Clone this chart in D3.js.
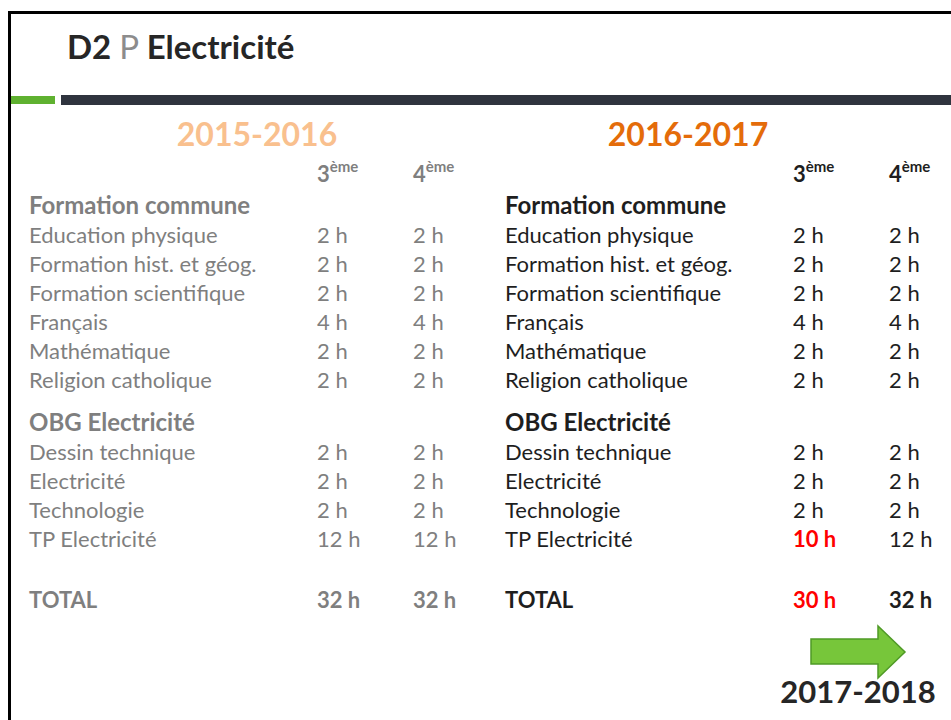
<!DOCTYPE html>
<html>
<head>
<meta charset="utf-8">
<script src="https://cdn.jsdelivr.net/npm/d3@7"></script>
<style>
  body { margin: 0; background: #fff; }
  svg { display: block; font-family: Lato, "Noto Sans", sans-serif; }
</style>
</head>
<body>
<svg id="slide" width="951" height="720"></svg>
<script>
const years = ["2015-2016", "2016-2017"];
const levels = ["3", "4"];
const sections = ["Formation commune", "OBG Electricité"];
const communeSubjects = ["Education physique", "Formation hist. et géog.", "Formation scientifique", "Français", "Mathématique", "Religion catholique"];
const obgSubjects = ["Dessin technique", "Electricité", "Technologie", "TP Electricité"];
// hours per subject [3ème, 4ème]
const hours2015 = [[2,2],[2,2],[2,2],[4,4],[2,2],[2,2],[2,2],[2,2],[2,2],[12,12]];
const hours2016 = [[2,2],[2,2],[2,2],[4,4],[2,2],[2,2],[2,2],[2,2],[2,2],[10,12]];

const svg = d3.select("#slide");

// row positions in "row units" (gaps between blocks)
const rows = [];
rows.push({label: sections[0], pos: 0, kind: "section"});
communeSubjects.forEach((s, i) => rows.push({label: s, pos: 1 + i, kind: "item", idx: i}));
rows.push({label: sections[1], pos: 7.5, kind: "section"});
obgSubjects.forEach((s, i) => rows.push({label: s, pos: 8.5 + i, kind: "item", idx: communeSubjects.length + i}));
rows.push({label: "TOTAL", pos: 13.6, kind: "total"});

const y = d3.scaleLinear().domain([0, 1]).range([214, 242.95]);
const panelX = d3.scaleOrdinal().domain(years).range([29, 505]);
const colX = d3.scaleOrdinal().domain(["label", "3", "4"]).range([0, 288, 384]);
const fs = 22;

// frame
svg.append("rect").attr("x", 9.5).attr("y", 12.5).attr("width", 960).attr("height", 720)
  .attr("fill", "none").attr("stroke", "#000").attr("stroke-width", 3);

// title
const title = svg.append("text").attr("x", 67).attr("y", 59).attr("font-size", 33).attr("font-weight", 700).attr("fill", "#262626");
title.append("tspan").text("D2 ");
title.append("tspan").attr("font-weight", 400).attr("fill", "#8c8c8c").text("P ");
title.append("tspan").text("Electricité");

// banner
svg.append("rect").attr("x", 11).attr("y", 96).attr("width", 44).attr("height", 8).attr("fill", "#5fb130");
svg.append("rect").attr("x", 61).attr("y", 95).attr("width", 900).attr("height", 10).attr("fill", "#2f343e");

const panels = [
  {year: years[0], hours: hours2015, color: "#7f7f7f", yearColor: "#f9c08e", yearMid: 228},
  {year: years[1], hours: hours2016, color: "#1e1e1e", yearColor: "#e46c0a", yearMid: 183}
];
const totals2015 = levels.map((l, j) => d3.sum(hours2015, h => h[j]));

panels.forEach((p, pi) => {
  const g = svg.append("g").attr("transform", `translate(${panelX(p.year)},0)`);
  g.append("text").attr("x", p.yearMid).attr("y", 146).attr("text-anchor", "middle")
    .attr("font-size", 32).attr("font-weight", 700).attr("fill", p.yearColor).text(p.year);

  levels.forEach(l => {
    const t = g.append("text").attr("x", colX(l)).attr("y", 182).attr("font-size", fs).attr("font-weight", 700).attr("fill", p.color);
    t.append("tspan").text(l);
    t.append("tspan").attr("dy", -10).attr("font-size", 15).text("ème");
  });

  const totals = levels.map((l, j) => d3.sum(p.hours, h => h[j]));

  rows.forEach(r => {
    const by = y(r.pos);
    g.append("text").attr("x", colX("label")).attr("y", by)
      .attr("font-size", r.kind === "section" ? 24 : fs).attr("font-weight", r.kind === "item" ? 400 : 700)
      .attr("fill", p.color).text(r.label);
    if (r.kind === "item") {
      levels.forEach((l, j) => {
        const red = pi > 0 && p.hours[r.idx][j] !== hours2015[r.idx][j];
        g.append("text").attr("x", colX(l)).attr("y", by).attr("font-size", fs)
          .attr("font-weight", red ? 700 : 400).attr("fill", red ? "#ff0000" : p.color)
          .text(p.hours[r.idx][j] + " h");
      });
    } else if (r.kind === "total") {
      levels.forEach((l, j) => {
        const red = pi > 0 && totals[j] !== totals2015[j];
        g.append("text").attr("x", colX(l)).attr("y", by).attr("font-size", fs)
          .attr("font-weight", 700).attr("fill", red ? "#ff0000" : p.color)
          .text(totals[j] + " h");
      });
    }
  });
});

// arrow to next year
const arrow = d3.path();
arrow.moveTo(811, 639); arrow.lineTo(878, 639); arrow.lineTo(878, 626); arrow.lineTo(905, 652);
arrow.lineTo(878, 678); arrow.lineTo(878, 664); arrow.lineTo(811, 664); arrow.closePath();
svg.append("path").attr("d", arrow.toString()).attr("fill", "#77c63a").attr("stroke", "#4f9a26").attr("stroke-width", 1.5);

svg.append("text").attr("x", 858).attr("y", 703).attr("text-anchor", "middle")
  .attr("font-size", 31).attr("font-weight", 700).attr("fill", "#262626").text("2017-2018");
</script>
</body>
</html>
